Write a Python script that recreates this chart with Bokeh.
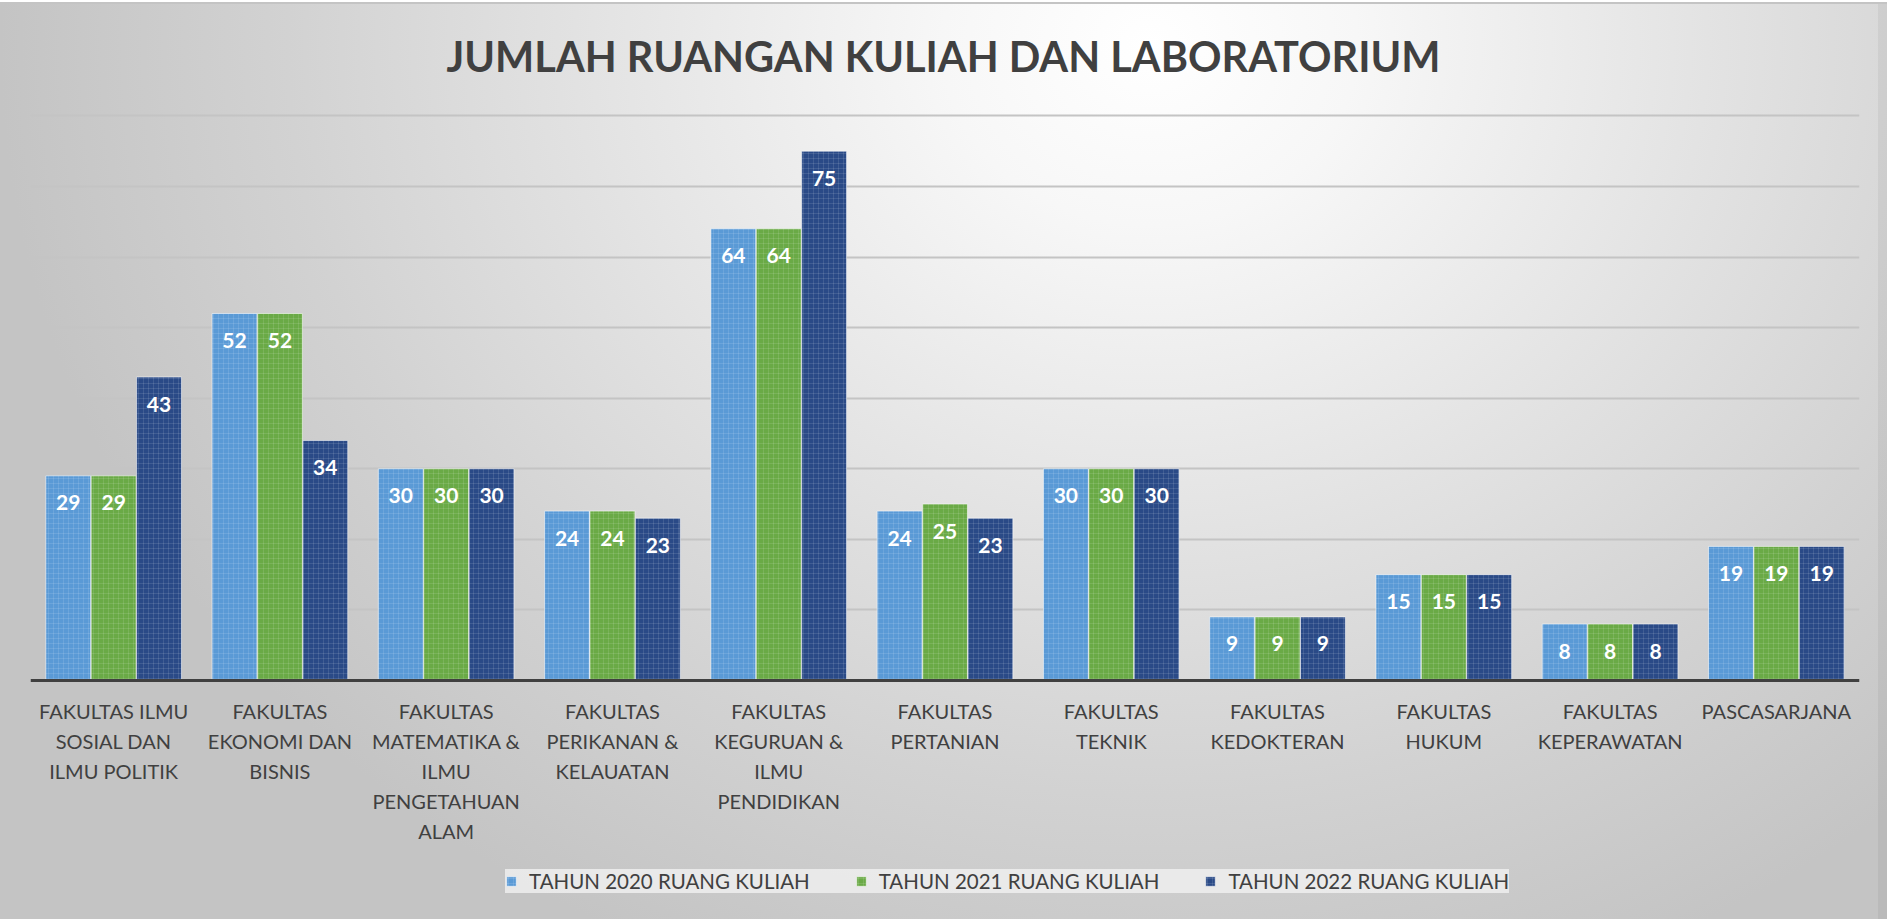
from bokeh.plotting import figure
from bokeh.models import (ColumnDataSource, FactorRange, Range1d, LabelSet, Label,
                          Legend, LegendItem, FixedTicker, Span)
from bokeh.transform import dodge
from bokeh.core.properties import value
from bokeh.embed import file_html
from bokeh.resources import INLINE

# ---------------- data ----------------
categories = [
    "FAKULTAS ILMU\nSOSIAL DAN\nILMU POLITIK",
    "FAKULTAS\nEKONOMI DAN\nBISNIS",
    "FAKULTAS\nMATEMATIKA &\nILMU\nPENGETAHUAN\nALAM",
    "FAKULTAS\nPERIKANAN &\nKELAUATAN",
    "FAKULTAS\nKEGURUAN &\nILMU\nPENDIDIKAN",
    "FAKULTAS\nPERTANIAN",
    "FAKULTAS\nTEKNIK",
    "FAKULTAS\nKEDOKTERAN",
    "FAKULTAS\nHUKUM",
    "FAKULTAS\nKEPERAWATAN",
    "PASCASARJANA",
]
series_names = ["TAHUN 2020 RUANG KULIAH", "TAHUN 2021 RUANG KULIAH", "TAHUN 2022 RUANG KULIAH"]
tahun_2020 = [29, 52, 30, 24, 64, 24, 30, 9, 15, 8, 19]
tahun_2021 = [29, 52, 30, 24, 64, 25, 30, 9, 15, 8, 19]
tahun_2022 = [43, 34, 30, 23, 75, 23, 30, 9, 15, 8, 19]
y_ticks = [0, 10, 20, 30, 40, 50, 60, 70, 80]
title_text = "JUMLAH RUANGAN KULIAH DAN LABORATORIUM"

colors = ["#5a9ad6", "#6aaa46", "#2a4a87"]
offsets = [-0.273, 0.0, 0.273]
FONT = "Lato"
TEXT_COLOR = "#404040"

src = ColumnDataSource(dict(
    cat=categories,
    base=[0] * len(categories),
    y0=tahun_2020, y1=tahun_2021, y2=tahun_2022,
    t0=[str(v) for v in tahun_2020],
    t1=[str(v) for v in tahun_2021],
    t2=[str(v) for v in tahun_2022],
))

W, H = 1887, 919
# the plot frame spans the full canvas height so that the title, the
# category labels and the legend (all drawn inside it) are not clipped
px_per_unit = (680 - 115.4) / 80.0
y_top = 680 / px_per_unit
y_bottom = -(H - 680) / px_per_unit

p = figure(x_range=FactorRange(*categories), y_range=Range1d(y_bottom, y_top),
           width=W, height=H, output_backend="svg", toolbar_location=None,
           min_border_left=30, min_border_right=28,
           min_border_top=0, min_border_bottom=0)

p.styles = {
    "background": (
        "linear-gradient(to bottom, #ffffff 0px, #ffffff 2px, #c4c4c4 2px, #c4c4c4 4px, rgba(0,0,0,0) 4px), "
        "linear-gradient(to right, rgba(0,0,0,0) 1878px, rgba(0,0,0,0.05) 1878px), "
        "radial-gradient(ellipse 1150px 1000px at 1150px 45px, "
        "#ffffff 0%, #f7f7f7 18%, #e2e2e2 50%, #d2d2d2 75%, #c4c4c4 100%)"
    )
}
p.background_fill_color = None
p.border_fill_color = None
p.outline_line_color = None

# title (screen units, relative to the frame's bottom-left corner)
p.add_layout(Label(x=913, y=H - 55, x_units="screen", y_units="screen",
                   text=title_text, text_align="center", text_baseline="middle",
                   text_font=FONT, text_font_style="bold",
                   text_font_size="41.5px", text_color=TEXT_COLOR))

# grid
p.xgrid.grid_line_color = None
p.ygrid.ticker = FixedTicker(ticks=y_ticks)
p.ygrid.grid_line_color = "#c4c4c4"
p.ygrid.grid_line_width = 2
p.yaxis.visible = False
p.xaxis.visible = False

# category axis line and labels
p.add_layout(Span(location=0, dimension="width", line_color=TEXT_COLOR, line_width=3))
p.text(x="cat", y="base", text="cat", source=src, y_offset=18,
       text_align="center", text_baseline="top", text_color=TEXT_COLOR,
       text_font=value(FONT), text_font_size="20px", text_line_height=1.25)

items = []
for i in range(3):
    r = p.vbar(x=dodge("cat", offsets[i], range=p.x_range), top="y%d" % i,
               width=0.27, source=src, fill_color=colors[i],
               line_color="white", line_alpha=0.55, line_width=1,
               hatch_pattern="+", hatch_color="white", hatch_alpha=0.16,
               hatch_scale=5, hatch_weight=0.7)
    items.append(LegendItem(label=series_names[i], renderers=[r]))
    labels = LabelSet(x=dodge("cat", offsets[i], range=p.x_range), y="y%d" % i,
                      text="t%d" % i, source=src, y_offset=-27,
                      text_align="center", text_baseline="middle",
                      text_color="white", text_font=value(FONT),
                      text_font_style="bold", text_font_size="21px")
    p.add_layout(labels)

legend = Legend(items=items, orientation="horizontal", location=(475, 26),
                glyph_width=12, glyph_height=12, label_standoff=12, spacing=45,
                padding=16, margin=0, label_height=22, label_width=280,
                label_text_font=FONT, label_text_font_size="20.5px",
                label_text_color=TEXT_COLOR,
                background_fill_color="#efefef", background_fill_alpha=0.85,
                border_line_color=None)
p.add_layout(legend, "center")

open("out.html", "w").write(file_html(p, INLINE))
